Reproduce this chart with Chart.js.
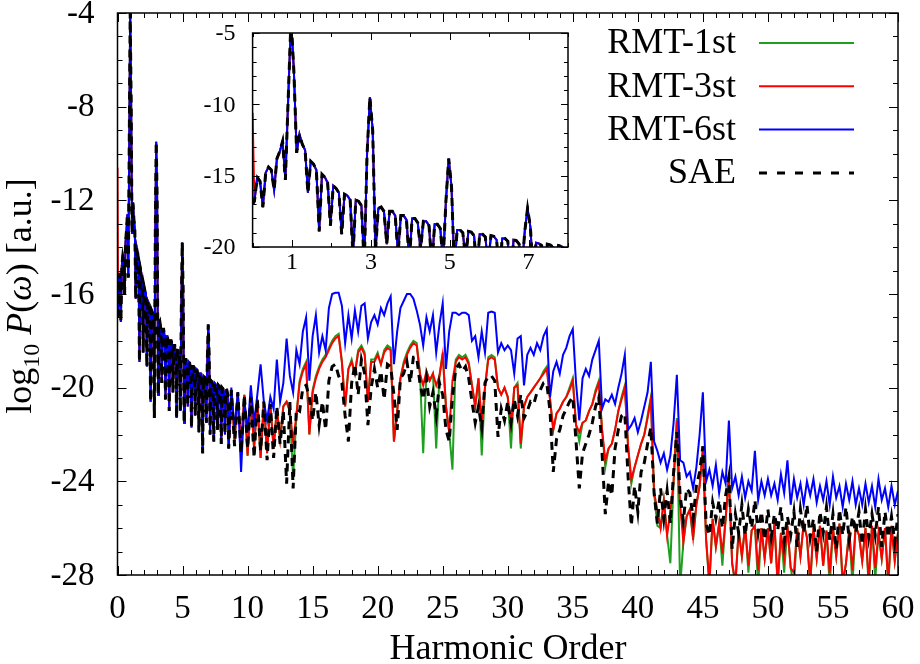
<!DOCTYPE html>
<html>
<head>
<meta charset="utf-8">
<script src="https://cdn.jsdelivr.net/npm/chart.js@4.4.1/dist/chart.umd.min.js"></script>
<style>
  body { margin: 0; background: #fff; }
  #wrap { position: relative; width: 920px; height: 664px; }
  #main { position: absolute; left: 0; top: 0; }
  #inset { position: absolute; left: 190px; top: 20px; }
</style>
</head>
<body>
<div id="wrap">
  <canvas id="main" width="920" height="664"></canvas>
  <canvas id="inset" width="390" height="270"></canvas>
</div>
<script>
"use strict"

const FONT = '"Liberation Serif", "Times New Roman", serif';

// legend names, in legend order
const seriesNames = ["RMT-1st", "RMT-3st", "RMT-6st", "SAE"];

// value at harmonic order 0 (only RMT-3st starts high)
const orderZeroPower = [-17.0, -10.6, -17.0, -17.0];

// low orders (0 - 8.5): all four curves lie on top of each other here,
// sampled every 1/14 of a harmonic (lobe dip / shoulder / top / shoulder)
const lowPower = [
  -16.8, -15.1, -15.4, -17.2,
  -14.8, -14.4, -14.6, -16.0,
  -13.8, -13.3, -12.6, -15.3,
  -9.6, -4.0, -7.6, -13.4,
  -12.1, -12.8, -13.2, -16.2,
  -14.0, -14.2, -14.6, -18.9,
  -14.9, -15.1, -15.5, -18.5,
  -15.7, -15.9, -16.2, -19.1,
  -16.3, -16.4, -16.7, -20.6,
  -16.7, -16.8, -17.1, -21.3,
  -13.5, -9.5, -11.8, -20.3,
  -17.3, -17.2, -17.5, -19.8,
  -17.5, -17.5, -17.8, -20.5,
  -17.8, -17.8, -18.1, -21.0,
  -18.0, -18.0, -18.3, -20.2,
  -18.2, -18.2, -18.5, -21.3,
  -18.4, -18.4, -18.7, -21.0,
  -16.8, -13.8, -15.8, -21.5,
  -18.8, -18.8, -19.0, -20.8,
  -18.9, -18.95, -19.2, -21.7,
  -19.1, -19.1, -19.3, -21.2,
  -19.2, -19.25, -19.5, -21.9,
  -19.4, -19.4, -19.6, -22.8,
  -19.5, -19.55, -19.8, -21.5,
  -18.9, -17.3, -18.6, -22.0,
  -19.7, -19.75, -19.9, -22.3,
  -19.8, -19.85, -20.0, -21.8,
  -19.9, -19.95, -20.1, -22.4,
  -20.0, -20.05, -20.2, -22.0,
  -20.1, -20.1, -20.3, -22.6
];

// higher orders, 8.75 .. 60 every 0.25 (one line per harmonic)
const rmt1High = [-20.1,
  -22.3, -20.2, -22.5, -20.3,
  -22.9, -20.4, -22.6, -20.5,
  -23.0, -20.6, -22.8, -20.7,
  -22.6, -20.9, -22.2, -20.8,
  -20.6, -21.0, -23.9, -21.2,
  -19.7, -19.2, -18.9, -22.0,
  -20.1, -19.5, -19.1, -18.8,
  -18.6, -18.3, -18.0, -17.8,
  -17.7, -18.9, -20.8, -19.2,
  -18.8, -19.4, -18.4, -18.2,
  -18.5, -20.6, -18.8, -18.8,
  -18.5, -19.0, -18.4, -18.2,
  -18.3, -22.3, -21.0, -19.6,
  -18.9, -18.5, -18.2, -18.0,
  -18.1, -19.4, -22.8, -19.3,
  -19.7, -19.4, -22.6, -19.5,
  -18.5, -20.8, -21.9, -23.5,
  -18.8, -18.6, -18.7, -18.6,
  -18.9, -19.9, -20.8, -19.6,
  -22.9, -20.0, -18.7, -18.6,
  -18.7, -20.0, -20.3, -20.0,
  -20.4, -22.6, -20.0, -19.8,
  -22.6, -20.8, -20.4, -20.2,
  -20.0, -19.8, -19.6, -19.3,
  -19.1, -20.5, -21.8, -21.1,
  -20.9, -20.6, -20.4, -20.0,
  -19.6, -21.6, -22.3, -21.5,
  -21.4, -21.0, -20.7, -20.1,
  -19.7, -21.8, -23.4, -22.6,
  -22.4, -21.8, -21.0, -20.4,
  -19.9, -22.5, -24.1, -23.4,
  -22.9, -22.4, -22.0, -21.2,
  -20.4, -24.5, -25.9, -26.0,
  -24.8, -26.3, -27.5, -24.0,
  -21.3, -28.5, -26.6, -25.5,
  -25.2, -26.5, -25.0, -24.2,
  -22.5, -26.5, -28.5, -25.6,
  -26.8, -25.8, -27.6, -25.6,
  -23.7, -27.5, -28.5, -26.1,
  -27.2, -25.9, -27.9, -26.1,
  -25.9, -28.5, -26.0, -27.3,
  -26.0, -27.5, -25.8, -28.5,
  -26.2, -27.9, -25.9, -27.7,
  -28.5, -26.0, -27.2, -25.8,
  -26.4, -28.5, -26.0, -27.3,
  -25.9, -27.6, -26.1, -28.5,
  -26.0, -27.2, -25.8, -28.5,
  -27.5, -26.1, -28.4, -25.9,
  -26.3, -27.4, -26.0, -28.5,
  -25.9, -28.2, -26.2, -27.3,
  -26.0, -28.5, -25.9, -27.4,
  -26.2];

const rmt3High = [-20.1,
  -22.3, -20.2, -22.5, -20.3,
  -22.9, -20.4, -22.6, -20.5,
  -23.0, -20.6, -22.8, -20.7,
  -22.6, -20.9, -22.2, -20.8,
  -20.6, -21.0, -22.3, -21.2,
  -19.8, -19.3, -19.0, -22.0,
  -20.2, -19.6, -19.2, -18.9,
  -18.7, -18.4, -18.1, -17.9,
  -17.8, -18.9, -20.8, -19.2,
  -18.9, -19.4, -18.5, -18.3,
  -18.6, -20.6, -18.9, -18.9,
  -18.6, -19.0, -18.5, -18.3,
  -18.4, -22.3, -21.0, -19.6,
  -19.0, -18.6, -18.3, -18.1,
  -18.2, -19.4, -19.9, -19.3,
  -19.7, -19.4, -19.9, -19.5,
  -18.6, -20.8, -21.9, -19.7,
  -18.9, -18.7, -18.8, -18.7,
  -19.0, -19.9, -20.8, -19.6,
  -21.5, -20.0, -18.8, -18.7,
  -18.8, -20.0, -20.3, -20.0,
  -20.4, -21.6, -20.0, -19.9,
  -22.4, -20.8, -20.4, -20.2,
  -20.0, -19.8, -19.6, -19.4,
  -19.2, -20.5, -21.8, -21.1,
  -20.9, -20.6, -20.4, -20.1,
  -19.7, -21.6, -21.9, -21.5,
  -21.4, -21.0, -20.7, -20.2,
  -19.8, -21.8, -23.1, -22.6,
  -22.4, -21.8, -21.0, -20.5,
  -20.0, -22.5, -23.9, -23.4,
  -22.9, -22.4, -22.0, -21.3,
  -20.5, -24.5, -25.2, -26.0,
  -24.8, -26.3, -25.3, -24.0,
  -21.4, -25.0, -26.6, -25.5,
  -25.2, -26.4, -25.0, -24.2,
  -22.7, -26.5, -28.3, -25.6,
  -26.8, -25.8, -27.1, -25.6,
  -23.8, -27.5, -28.3, -26.1,
  -27.2, -25.9, -27.6, -26.1,
  -25.9, -27.8, -26.0, -27.3,
  -26.0, -27.5, -25.8, -28.3,
  -26.2, -27.3, -25.9, -27.7,
  -27.9, -26.0, -27.2, -25.8,
  -26.4, -28.3, -26.0, -27.3,
  -25.9, -27.6, -26.1, -27.9,
  -26.0, -27.2, -25.8, -28.3,
  -27.5, -26.1, -27.8, -25.9,
  -26.3, -27.4, -26.0, -28.3,
  -25.9, -27.7, -26.2, -27.3,
  -26.0, -28.3, -25.9, -27.4,
  -26.2];

const rmt6High = [-20.0,
  -21.8, -20.2, -23.6, -20.5,
  -21.9, -19.9, -21.5, -20.3,
  -19.0, -20.6, -21.4, -20.4,
  -20.9, -18.8, -20.6, -19.8,
  -17.9, -19.5, -20.2, -18.4,
  -19.0, -17.6, -17.0, -19.7,
  -17.8, -16.9, -18.5, -17.8,
  -18.4, -16.6, -16.0, -15.95,
  -15.95, -16.5, -18.1, -16.9,
  -17.9, -16.7, -17.6, -16.5,
  -16.4, -17.9, -17.2, -16.9,
  -17.3, -16.6, -16.9, -16.4,
  -16.1, -19.0, -17.6, -16.6,
  -16.3, -16.0, -16.0, -16.2,
  -16.7, -17.3, -18.2, -17.0,
  -17.6, -16.9, -18.5, -17.3,
  -16.4, -19.2, -17.6, -16.8,
  -16.8, -16.9, -16.8, -16.8,
  -16.9, -18.0, -17.8, -18.7,
  -17.6, -18.5, -16.8, -16.75,
  -16.8, -18.5, -18.1, -18.4,
  -18.2, -18.4, -19.4, -17.9,
  -17.8, -19.9, -18.6, -18.3,
  -18.6, -18.1, -18.4, -17.8,
  -17.5, -20.4, -19.3, -18.9,
  -19.4, -18.6, -18.3, -17.8,
  -17.5, -19.8, -21.4, -19.6,
  -19.2, -19.5, -18.8, -18.4,
  -18.0, -20.9, -20.5, -20.6,
  -20.3, -20.7, -20.0, -19.4,
  -18.6, -21.8, -21.6, -21.3,
  -21.9, -21.4, -20.8, -20.2,
  -18.9, -22.3, -22.7, -23.2,
  -22.8, -23.5, -22.9, -21.5,
  -19.45, -23.1, -23.2, -23.8,
  -23.6, -24.3, -23.4, -22.0,
  -20.2, -24.0, -23.5, -24.2,
  -23.3, -24.5, -23.6, -24.1,
  -21.4, -24.3, -23.8, -24.6,
  -23.8, -24.7, -24.0, -24.4,
  -22.7, -24.8, -24.0, -24.6,
  -23.9, -24.6, -24.1, -24.8,
  -23.7, -24.5, -23.1, -25.0,
  -23.9, -24.7, -24.1, -25.0,
  -24.0, -24.6, -23.9, -24.9,
  -24.2, -24.8, -24.0, -25.0,
  -23.8, -24.7, -24.2, -25.1,
  -24.1, -24.8, -24.0, -25.0,
  -24.3, -25.0, -24.1, -24.9,
  -24.2, -25.1, -23.9, -24.8,
  -24.3, -25.1, -24.2, -25.0,
  -24.4];

const saeHigh = [-20.1,
  -22.5, -20.2, -22.8, -20.3,
  -22.6, -20.4, -23.0, -20.5,
  -22.7, -20.6, -23.1, -20.7,
  -23.0, -20.8, -22.4, -21.0,
  -24.1, -20.6, -24.3, -20.9,
  -21.0, -20.0, -19.9, -20.4,
  -21.4, -20.2, -21.6, -20.6,
  -21.8, -19.7, -19.1, -19.0,
  -19.5, -19.8, -21.2, -22.3,
  -19.8, -19.0, -20.3, -18.8,
  -19.4, -21.6, -20.0, -19.2,
  -20.0, -19.3, -20.5, -19.0,
  -19.1, -20.3, -21.8, -19.6,
  -19.4, -18.9, -19.8, -18.7,
  -18.7, -19.8, -20.5, -19.6,
  -20.8, -20.2, -21.2, -19.8,
  -20.3, -21.8, -22.3, -20.4,
  -19.2, -19.0, -19.3, -19.1,
  -19.6, -20.6, -21.5, -20.8,
  -21.7, -19.8, -19.5, -19.5,
  -19.7, -22.1, -20.9, -21.4,
  -20.6, -21.5, -20.5, -21.2,
  -20.3, -21.3, -21.0, -20.6,
  -20.7, -20.2, -20.1, -19.8,
  -19.8, -21.0, -23.6, -22.2,
  -21.8, -21.2, -20.9, -20.6,
  -20.4, -22.3, -24.3, -22.8,
  -22.4, -22.0, -21.5, -20.8,
  -20.4, -22.8, -25.4, -24.0,
  -24.6, -22.6, -21.8, -21.2,
  -21.1, -23.8, -25.9, -24.2,
  -25.3, -23.6, -23.2, -22.4,
  -21.7, -24.5, -25.8, -24.3,
  -25.6, -24.4, -25.8, -23.6,
  -21.9, -24.6, -25.7, -24.3,
  -24.5, -25.6, -24.2, -23.6,
  -22.5, -25.8, -26.3, -24.9,
  -25.6, -24.8, -26.0, -24.6,
  -23.8, -26.9, -25.4, -26.2,
  -25.0, -26.3, -25.2, -26.0,
  -24.8, -26.2, -25.3, -26.5,
  -25.2, -26.4, -25.4, -26.1,
  -25.1, -26.6, -25.5, -26.3,
  -25.3, -26.8, -25.2, -26.2,
  -25.0, -26.4, -25.6, -27.0,
  -25.3, -26.2, -25.1, -26.5,
  -25.4, -26.9, -25.2, -26.3,
  -25.1, -26.5, -25.5, -26.2,
  -25.3, -26.7, -25.2, -26.4,
  -25.4, -26.3, -25.1, -26.8,
  -25.3, -26.4, -25.5, -26.6,
  -25.4];

const highValues = [rmt1High, rmt3High, rmt6High, saeHigh];

// tick labels
const mainXTicks = [0, 5, 10, 15, 20, 25, 30, 35, 40, 45, 50, 55, 60];
const mainYTicks = [-4, -8, -12, -16, -20, -24, -28];
const insetXTicks = [1, 3, 5, 7];
const insetYTicks = [-5, -10, -15, -20];

// harmonic order grids for the two parts
const lowOrders = [];
for (let k = 0; k < lowPower.length; k++) lowOrders.push(0.046 + k / 14);
const highOrders = [];
for (let i = 0; i < saeHigh.length; i++) highOrders.push(8.75 + i * 0.25);

const lineColors = ["#1f9f1f", "#ff0000", "#0000ff", "#000000"];
const lineWidths = [2, 2, 2, 3];
const lineDashes = [[], [], [], [8, 6]];
const drawOrder = [4, 3, 2, 1];

function seriesPoints(i) {
  const pts = [{x: 0, y: orderZeroPower[i]}];
  lowOrders.forEach((h, k) => pts.push({x: h, y: lowPower[k]}));
  highOrders.forEach((h, k) => pts.push({x: h, y: highValues[i][k]}));
  return pts;
}

function makeDatasets() {
  return seriesNames.map((name, i) => ({
    label: name,
    data: seriesPoints(i),
    borderColor: lineColors[i],
    borderWidth: lineWidths[i],
    borderDash: lineDashes[i],
    pointRadius: 0,
    tension: 0,
    fill: false,
    order: drawOrder[i]
  }));
}

// gnuplot-like frame: inward ticks on all four sides plus tick labels
function frameTicks(opts) {
  return {
    id: "frameTicks",
    beforeDraw(chart) {
      if (!opts.fillWhite) return;
      const a = chart.chartArea;
      chart.ctx.save();
      chart.ctx.fillStyle = "#fff";
      chart.ctx.fillRect(a.left, a.top, a.right - a.left, a.bottom - a.top);
      chart.ctx.restore();
    },
    afterDraw(chart) {
      const ctx = chart.ctx;
      const a = chart.chartArea;
      const x = chart.scales.x, y = chart.scales.y;
      ctx.save();
      ctx.strokeStyle = "#000";
      ctx.lineWidth = 1;
      ctx.beginPath();
      for (let v = x.min; v <= x.max + 1e-6; v += opts.xMinor) {
        const px = Math.round(x.getPixelForValue(v)) + 0.5;
        const len = opts.xMajor(v) ? opts.major : opts.minor;
        ctx.moveTo(px, a.bottom); ctx.lineTo(px, a.bottom - len);
        ctx.moveTo(px, a.top); ctx.lineTo(px, a.top + len);
      }
      for (let v = y.min; v <= y.max + 1e-6; v += opts.yMinor) {
        const py = Math.round(y.getPixelForValue(v)) + 0.5;
        const len = opts.yMajor(v) ? opts.major : opts.minor;
        ctx.moveTo(a.left, py); ctx.lineTo(a.left + len, py);
        ctx.moveTo(a.right, py); ctx.lineTo(a.right - len, py);
      }
      ctx.stroke();
      ctx.lineWidth = 1.5;
      ctx.strokeRect(a.left, a.top, a.right - a.left, a.bottom - a.top);

      ctx.fillStyle = "#000";
      ctx.font = opts.fontSize + "px " + FONT;
      ctx.textAlign = "center";
      ctx.textBaseline = "top";
      opts.xTicks.forEach(v => ctx.fillText(String(v), x.getPixelForValue(v), a.bottom + opts.xPad));
      ctx.textAlign = "right";
      ctx.textBaseline = "middle";
      opts.yTicks.forEach(v => ctx.fillText(String(v), a.left - opts.yPad, y.getPixelForValue(v) + 1));
      ctx.restore();
    }
  };
}

const mainTexts = {
  id: "mainTexts",
  afterDraw(chart) {
    const ctx = chart.ctx;
    ctx.save();
    ctx.fillStyle = "#000";

    // legend
    ctx.font = "36px " + FONT;
    ctx.textAlign = "right";
    ctx.textBaseline = "middle";
    const rows = [43, 86.3, 129.6, 172.9];
    seriesNames.forEach((name, i) => {
      ctx.fillText(name, 736, rows[i] + 1);
      ctx.beginPath();
      ctx.strokeStyle = lineColors[i];
      ctx.lineWidth = i === 3 ? 3 : 2;
      ctx.setLineDash(i === 3 ? [8, 10] : []);
      ctx.moveTo(759, rows[i]);
      ctx.lineTo(854, rows[i]);
      ctx.stroke();
    });
    ctx.setLineDash([]);

    // x axis title
    ctx.textAlign = "center";
    ctx.textBaseline = "alphabetic";
    ctx.font = "36px " + FONT;
    ctx.fillText("Harmonic Order", 508, 659);

    // y axis title: log10 P(w) [a.u.]
    const parts = [
      {t: "log", f: "36px " + FONT, dy: 0},
      {t: "10", f: "24px " + FONT, dy: 8},
      {t: " ", f: "36px " + FONT, dy: 0},
      {t: "P", f: "italic 36px " + FONT, dy: 0},
      {t: "(", f: "36px " + FONT, dy: 0},
      {t: "\u03c9", f: "italic 36px " + FONT, dy: 0},
      {t: ") [a.u.]", f: "36px " + FONT, dy: 0}
    ];
    let total = 0;
    parts.forEach(p => { ctx.font = p.f; p.w = ctx.measureText(p.t).width; total += p.w; });
    ctx.translate(31, 296);
    ctx.rotate(-Math.PI / 2);
    ctx.textAlign = "left";
    let cx = -total / 2;
    parts.forEach(p => { ctx.font = p.f; ctx.fillText(p.t, cx, p.dy); cx += p.w; });
    ctx.restore();
  }
};

function axisOptions(min, max, size) {
  return {
    type: "linear", min: min, max: max,
    grid: {display: false, drawTicks: false},
    border: {display: false},
    ticks: {display: false},
    afterFit(s) { if (s.isHorizontal()) s.height = size; else s.width = size; }
  };
}

const mainChart = new Chart(document.getElementById("main"), {
  type: "line",
  data: {datasets: makeDatasets()},
  options: {
    responsive: false,
    animation: false,
    events: [],
    layout: {padding: {top: 13, right: 22, left: 0, bottom: 0}},
    plugins: {legend: {display: false}, tooltip: {enabled: false}},
    scales: {
      x: axisOptions(0, 60, 89),
      y: axisOptions(-28, -4, 117.5)
    }
  },
  plugins: [
    frameTicks({xMinor: 1, yMinor: 1, major: 9, minor: 5, fontSize: 33, xPad: 18, yPad: 23,
      xTicks: mainXTicks, yTicks: mainYTicks,
      xMajor: v => Math.abs(v % 5) < 1e-6, yMajor: v => Math.abs(v % 4) < 1e-6}),
    mainTexts
  ]
});

const insetChart = new Chart(document.getElementById("inset"), {
  type: "line",
  data: {datasets: makeDatasets()},
  options: {
    responsive: false,
    animation: false,
    events: [],
    layout: {padding: {top: 13, right: 12, left: 0, bottom: 0}},
    plugins: {legend: {display: false}, tooltip: {enabled: false}},
    scales: {
      x: axisOptions(0, 8, 43),
      y: axisOptions(-20, -5, 62.6)
    }
  },
  plugins: [
    frameTicks({fillWhite: true, xMinor: 1, yMinor: 1, major: 7, minor: 4, fontSize: 24, xPad: 4, yPad: 17,
      xTicks: insetXTicks, yTicks: insetYTicks,
      xMajor: v => Math.abs(v % 2) === 1, yMajor: v => Math.abs(v % 5) < 1e-6})
  ]
});
</script>
</body>
</html>
